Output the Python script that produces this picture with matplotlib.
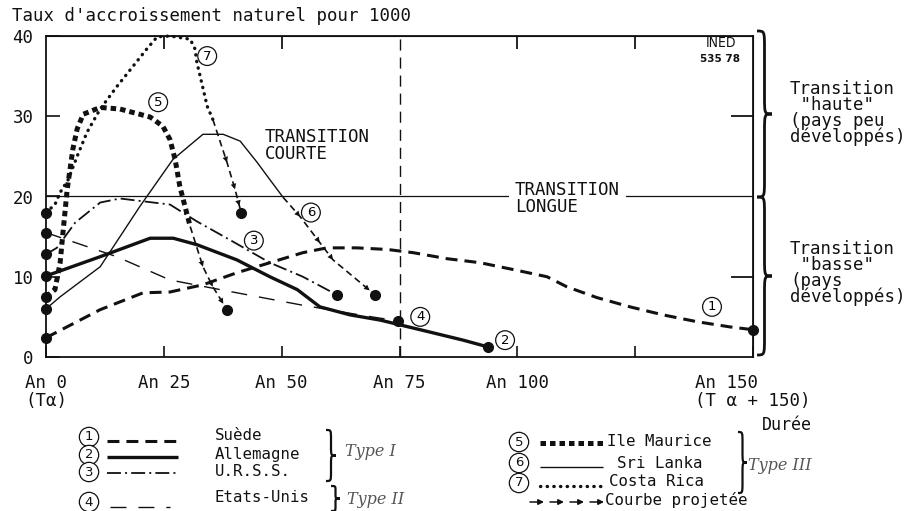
import matplotlib
matplotlib.use('Agg')
import matplotlib.pyplot as plt
from matplotlib.path import Path
from matplotlib.patches import PathPatch

plt.rcParams['font.family'] = ['DejaVu Sans Mono', 'DejaVu Sans']
K = '#111111'

# ---------------- data ----------------
x_ticks = [0, 25, 50, 75, 100, 125, 150]
x_tick_labels = ['An 0\n(Tα)', 'An 25', 'An 50', 'An 75', 'An 100', '', 'An 150\n(T α + 150)']
y_ticks = [0, 10, 20, 30, 40]
top_ticks = [25, 50, 100, 125]
right_ticks = [10, 30]
threshold_rate = 20
long_transition_year = 75

# 1 Suède
suede_x = [0, 11.5, 20.6, 26.3, 33.3, 40.5, 47.5, 54.5, 59.6, 66, 72.4, 77.9, 85.1, 92.1,
           99.1, 106.3, 110.5, 116.9, 123.9, 130.9, 138.1, 145.1, 150]
suede_y = [2.4, 5.9, 8.0, 8.1, 9.0, 10.5, 11.75, 13.0, 13.6, 13.6, 13.4, 13.0, 12.25, 11.75,
           10.9, 10.0, 8.75, 7.4, 6.25, 5.25, 4.4, 3.75, 3.4]
# 2 Allemagne
allemagne_x = [0, 11.5, 22.1, 27, 32.0, 40.5, 47.5, 53.3, 58.1, 64.5, 70.9, 81.5, 88.5, 93.8]
allemagne_y = [10.1, 12.5, 14.8, 14.8, 14.0, 12.1, 10.0, 8.4, 6.25, 5.25, 4.6, 3.1, 2.1, 1.25]
# 3 U.R.S.S.
urss_x = [0, 2.3, 6.2, 11.5, 15.7, 20.6, 26.3, 32.0, 39.0, 47.5, 54.5, 61.7]
urss_y = [12.8, 13.6, 16.75, 19.25, 19.75, 19.4, 19.0, 16.9, 14.6, 11.75, 10.0, 7.75]
# 4 Etats-Unis
usa_x = [0, 15, 26.3, 36.9, 54, 68, 74.7]
usa_y = [15.5, 12.5, 9.6, 8.4, 6.5, 5.1, 4.5]
# 5 Ile Maurice
maurice_x = [0, 1.9, 3.0, 3.6, 4.5, 5.1, 5.7, 6.6, 7.9, 11.5, 15.7, 22.1, 24.8, 26.3, 27.4,
             28.4, 29.5, 30.6]
maurice_y = [7.5, 8.4, 11.75, 15.5, 20.9, 23.4, 25.9, 28.4, 30.25, 31.1, 30.9, 29.9, 28.75,
             27.1, 24.6, 21.25, 18.75, 16.25]
maurice_proj_x = [30.6, 33.3, 35.4, 38.4]
maurice_proj_y = [16.25, 11.25, 8.75, 5.9]
# 6 Sri Lanka
srilanka_x = [0, 3.0, 11.5, 19.9, 26.9, 33.3, 37.6, 41.2, 44.8, 47.5, 50.3]
srilanka_y = [6.0, 7.5, 11.25, 18.75, 24.6, 27.75, 27.75, 26.9, 24.25, 22.1, 19.9]
srilanka_proj_x = [50.3, 53.9, 58.1, 60.9, 69.8]
srilanka_proj_y = [19.9, 17.5, 14.25, 12.1, 7.75]
# 7 Costa Rica
costarica_x = [0, 1.9, 3.0, 4.7, 6.6, 8.7, 11.5, 15.1, 18.5, 21.4, 23.6, 26.3, 30.6, 31.6,
               32.0, 34.2, 35.4]
costarica_y = [18, 19, 20.5, 22.1, 25, 28, 30.9, 33.75, 36.25, 38.4, 39.9, 40, 39.6, 38.4,
               36.75, 31.25, 29.6]
costarica_proj_x = [35.4, 38.4, 40.1, 41.4]
costarica_proj_y = [29.6, 24.25, 20.9, 18.0]

curve_numbers = ['1', '2', '3', '4', '5', '6', '7']
number_x = [141.3, 97.4, 44.1, 79.4, 23.8, 56.2, 34.2]
number_y = [6.25, 2.1, 14.5, 5.0, 31.75, 18.0, 37.5]

# styles
ST_SUEDE = dict(lw=2.2, ls=(0, (3.9, 2.3)))
ST_ALL = dict(lw=2.4, ls='-')
ST_URSS = dict(lw=1.3, ls=(0, (7.7, 2.3, 1.1, 2.3)))
ST_USA = dict(lw=1.0, ls=(0, (11.5, 8.6)))
ST_MAUR = dict(lw=3.6, ls=(0, (1.1, 0.8)))
ST_SRI = dict(lw=1.0, ls='-')
ST_COSTA = dict(lw=2.4, ls=(0, (0.1, 1.9)), dash_capstyle='round')

W, H = 911, 511
fig = plt.figure(figsize=(W / 100, H / 100), dpi=100)
fig.patch.set_facecolor('white')
ax = fig.add_axes([46 / W, 154 / H, 707 / W, 321 / H])
ax.set_xlim(0, 150)
ax.set_ylim(0, 40)
for s in ax.spines.values():
    s.set_linewidth(1.3)
    s.set_color(K)

ax.axhline(threshold_rate, color=K, lw=0.9)
ax.axvline(long_transition_year, color=K, lw=1.0, ls=(0, (8, 5)))


def curve(xs, ys, st):
    ax.plot(xs, ys, color=K, clip_on=False, solid_capstyle='butt',
            **({'dash_capstyle': 'butt'} | st))


def dot(x, y):
    ax.plot([x], [y], 'o', ms=7, color=K, clip_on=False, zorder=5)


def projected(xs, ys):
    ax.plot(xs, ys, color=K, lw=1.2, ls=(0, (4, 2.5)))
    n = len(xs)
    for i in range(n - 1):
        ax.annotate('', xy=(xs[i + 1], ys[i + 1]), xytext=(xs[i], ys[i]),
                    arrowprops=dict(arrowstyle='-|>', mutation_scale=10, lw=0, color=K,
                                    shrinkA=0, shrinkB=5 if i == n - 2 else 0))
    dot(xs[-1], ys[-1])


curve(suede_x, suede_y, ST_SUEDE)
curve(allemagne_x, allemagne_y, ST_ALL)
curve(urss_x, urss_y, ST_URSS)
curve(usa_x, usa_y, ST_USA)
curve(maurice_x, maurice_y, ST_MAUR)
curve(srilanka_x, srilanka_y, ST_SRI)
curve(costarica_x, costarica_y, ST_COSTA)
projected(maurice_proj_x, maurice_proj_y)
projected(srilanka_proj_x, srilanka_proj_y)
projected(costarica_proj_x, costarica_proj_y)
for xs, ys in [(suede_x, suede_y), (allemagne_x, allemagne_y), (urss_x, urss_y),
               (usa_x, usa_y), (maurice_x, maurice_y), (srilanka_x, srilanka_y),
               (costarica_x, costarica_y)]:
    dot(xs[0], ys[0])
for xs, ys in [(suede_x, suede_y), (allemagne_x, allemagne_y), (urss_x, urss_y),
               (usa_x, usa_y)]:
    dot(xs[-1], ys[-1])

for t, x, y in zip(curve_numbers, number_x, number_y):
    ax.text(x, y, t, ha='center', va='center', fontsize=9.5, family='DejaVu Sans',
            bbox=dict(boxstyle='circle,pad=0.22', fc='white', ec=K, lw=0.9), zorder=6)

# ticks
ax.set_xticks(x_ticks)
ax.set_xticklabels(x_tick_labels, fontsize=12.5)
for lab in ax.get_xticklabels():
    lab.set_multialignment('center')
    lab.set_linespacing(1.0)
ax.get_xticklabels()[-1].set_multialignment('left')
ax.tick_params(axis='x', direction='in', length=8, width=1.2, pad=12, colors=K)
ax.set_yticks(y_ticks)
ax.set_yticklabels([str(v) for v in y_ticks], fontsize=12.5)
ax.tick_params(axis='y', direction='in', length=10, width=1.2, pad=9, colors=K)
sx = ax.secondary_xaxis('top')
sx.set_xticks(top_ticks)
sx.set_xticklabels([])
sx.tick_params(direction='in', length=9, width=1.2)
sy = ax.secondary_yaxis('right')
sy.set_yticks(right_ticks)
sy.set_yticklabels([])
sy.tick_params(direction='in', length=16, width=1.2)

# ---------------- overlay in pixel coordinates ----------------
ov = fig.add_axes([0, 0, 1, 1])
ov.set_xlim(0, W)
ov.set_ylim(H, 0)
ov.axis('off')
ov.patch.set_visible(False)


def brace(x, y0, y1, w, lw=1.8):
    ym = (y0 + y1) / 2
    r = min(0.18 * (y1 - y0), 1.2 * w)
    xm = x + w / 2
    verts = [(x, y0), (xm, y0), (xm, y0), (xm, y0 + r), (xm, ym - r),
             (xm, ym), (xm, ym), (x + w, ym),
             (xm, ym), (xm, ym), (xm, ym + r), (xm, y1 - r),
             (xm, y1), (xm, y1), (x, y1)]
    codes = [Path.MOVETO, Path.CURVE4, Path.CURVE4, Path.CURVE4, Path.LINETO,
             Path.CURVE4, Path.CURVE4, Path.CURVE4,
             Path.CURVE4, Path.CURVE4, Path.CURVE4, Path.LINETO,
             Path.CURVE4, Path.CURVE4, Path.CURVE4]
    ov.add_patch(PathPatch(Path(verts, codes), fc='none', ec=K, lw=lw))


brace(757, 31, 197, 15, 2.0)
brace(757, 197, 355, 15, 2.0)

FS = 12.5
ov.text(12, 16, "Taux d'accroissement naturel pour 1000", fontsize=FS, ha='left', va='center', color=K)
ov.text(790, 80, 'Transition\n "haute"\n(pays peu\ndéveloppés)', fontsize=FS, ha='left', va='top',
        linespacing=0.85, color=K)
ov.text(790, 240, 'Transition\n "basse"\n(pays\ndéveloppés)', fontsize=FS, ha='left', va='top',
        linespacing=0.85, color=K)
ov.text(265, 128, 'TRANSITION\nCOURTE', fontsize=FS, ha='left', va='top', linespacing=0.95, color=K)
ov.text(515, 181, 'TRANSITION\nLONGUE', fontsize=FS, ha='left', va='top', linespacing=0.95, color=K,
        bbox=dict(boxstyle='square,pad=0.35', fc='white', ec='none'))
ov.text(721, 43, 'INED', fontsize=10, ha='center', va='center', color=K, family='DejaVu Sans',
        fontstretch='condensed')
ov.text(720, 59, '535 78', fontsize=7.5, ha='center', va='center', color=K, weight='bold',
        family='DejaVu Sans')
ov.text(787, 425, 'Durée', fontsize=12, ha='center', va='center', color=K)

# legend
FL = 11.3
def circ(x, y, t):
    ov.text(x, y, t, ha='center', va='center', fontsize=9.5, family='DejaVu Sans', color=K,
            bbox=dict(boxstyle='circle,pad=0.24', fc='white', ec=K, lw=0.9))


def sample(x0, x1, y, st):
    ov.plot([x0, x1], [y, y], color=K, solid_capstyle='butt', **({'dash_capstyle': 'butt'} | st))


circ(89, 437, '1'); sample(107, 176, 441, ST_SUEDE)
circ(89, 455, '2'); sample(107, 178, 457, ST_ALL)
circ(89, 472, '3'); sample(107, 176, 473, ST_URSS)
circ(89, 502, '4'); sample(110, 170, 507, ST_USA)
ov.text(215, 436, 'Suède', fontsize=FL, ha='left', va='center', color=K)
ov.text(215, 454, 'Allemagne', fontsize=FL, ha='left', va='center', color=K)
ov.text(215, 472, 'U.R.S.S.', fontsize=FL, ha='left', va='center', color=K)
ov.text(215, 498, 'Etats-Unis', fontsize=FL, ha='left', va='center', color=K)
brace(326, 430, 481, 10, 1.6)
brace(331, 486, 511, 9, 1.6)
ov.text(345, 452, 'Type I', fontsize=11.5, ha='left', va='center', color='#555555',
        family='DejaVu Serif', style='italic')
ov.text(347, 499, 'Type II', fontsize=11.5, ha='left', va='center', color='#555555',
        family='DejaVu Serif', style='italic')

circ(519, 442, '5'); sample(540, 603, 443, ST_MAUR)
circ(519, 463, '6'); sample(540, 603, 467, ST_SRI)
circ(519, 483, '7'); sample(540, 603, 486, ST_COSTA)
for xa in [530, 550, 570, 590]:
    ov.annotate('', xy=(xa + 14, 502), xytext=(xa, 502),
                arrowprops=dict(arrowstyle='-|>', mutation_scale=8, lw=1.1, color=K,
                                shrinkA=0, shrinkB=0))
ov.text(607, 441, 'Ile Maurice', fontsize=FL, ha='left', va='center', color=K)
ov.text(617, 463, 'Sri Lanka', fontsize=FL, ha='left', va='center', color=K)
ov.text(609, 482, 'Costa Rica', fontsize=FL, ha='left', va='center', color=K)
ov.text(605, 500, 'Courbe projetée', fontsize=FL, ha='left', va='center', color=K)
brace(738, 432, 493, 9, 1.6)
ov.text(748, 466, 'Type III', fontsize=11.5, ha='left', va='center', color='#555555',
        family='DejaVu Serif', style='italic')

fig.savefig('out.png', dpi=100, facecolor='white')
